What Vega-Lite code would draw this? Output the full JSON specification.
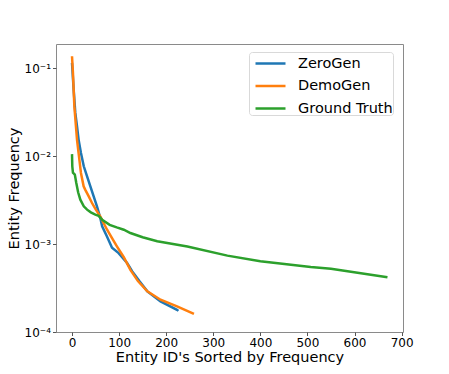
{
  "$schema": "https://vega.github.io/schema/vega-lite/v6.json",
  "width": 347,
  "height": 288,
  "autosize": "none",
  "padding": {"left": 56, "top": 44, "right": 46, "bottom": 42},
  "background": "white",
  "config": {
    "font": "DejaVu Sans",
    "view": {"stroke": "#8a8a8a", "strokeWidth": 1},
    "axis": {
      "grid": false,
      "domain": false,
      "tickColor": "#555",
      "tickSize": 3.5,
      "labelFont": "DejaVu Sans",
      "labelFontSize": 12,
      "labelColor": "black",
      "titleFont": "DejaVu Sans",
      "titleFontSize": 14.5,
      "titleFontWeight": "normal",
      "titleColor": "black"
    }
  },
  "data": {
    "values": [
      {"s": "ZeroGen", "x": 0, "y": 0.116},
      {"s": "ZeroGen", "x": 3.5, "y": 0.0575},
      {"s": "ZeroGen", "x": 7, "y": 0.0312},
      {"s": "ZeroGen", "x": 10.6, "y": 0.022},
      {"s": "ZeroGen", "x": 14, "y": 0.0155},
      {"s": "ZeroGen", "x": 19, "y": 0.0109},
      {"s": "ZeroGen", "x": 25, "y": 0.0077},
      {"s": "ZeroGen", "x": 32, "y": 0.0059},
      {"s": "ZeroGen", "x": 39, "y": 0.00455},
      {"s": "ZeroGen", "x": 46, "y": 0.0035},
      {"s": "ZeroGen", "x": 53, "y": 0.00269},
      {"s": "ZeroGen", "x": 60, "y": 0.002},
      {"s": "ZeroGen", "x": 64, "y": 0.0016},
      {"s": "ZeroGen", "x": 74, "y": 0.00123},
      {"s": "ZeroGen", "x": 85, "y": 0.00091},
      {"s": "ZeroGen", "x": 99, "y": 0.00079},
      {"s": "ZeroGen", "x": 117, "y": 0.00061},
      {"s": "ZeroGen", "x": 128, "y": 0.00049},
      {"s": "ZeroGen", "x": 143, "y": 0.00038},
      {"s": "ZeroGen", "x": 160, "y": 0.00029},
      {"s": "ZeroGen", "x": 188, "y": 0.000223},
      {"s": "ZeroGen", "x": 223, "y": 0.000179},
      {"s": "ZeroGen", "x": 226, "y": 0.000174},
      {"s": "DemoGen", "x": 0, "y": 0.138},
      {"s": "DemoGen", "x": 2, "y": 0.089},
      {"s": "DemoGen", "x": 5, "y": 0.037},
      {"s": "DemoGen", "x": 10.6, "y": 0.0155},
      {"s": "DemoGen", "x": 14, "y": 0.0109},
      {"s": "DemoGen", "x": 19, "y": 0.00646},
      {"s": "DemoGen", "x": 24.7, "y": 0.00455},
      {"s": "DemoGen", "x": 28, "y": 0.00418},
      {"s": "DemoGen", "x": 35, "y": 0.00355},
      {"s": "DemoGen", "x": 42.5, "y": 0.00294},
      {"s": "DemoGen", "x": 50, "y": 0.00251},
      {"s": "DemoGen", "x": 60, "y": 0.00207},
      {"s": "DemoGen", "x": 67, "y": 0.00174},
      {"s": "DemoGen", "x": 74.5, "y": 0.00146},
      {"s": "DemoGen", "x": 85, "y": 0.00117},
      {"s": "DemoGen", "x": 95.7, "y": 0.00094},
      {"s": "DemoGen", "x": 110, "y": 0.00071},
      {"s": "DemoGen", "x": 124, "y": 0.00051},
      {"s": "DemoGen", "x": 140, "y": 0.00038},
      {"s": "DemoGen", "x": 160, "y": 0.00029},
      {"s": "DemoGen", "x": 188, "y": 0.000233},
      {"s": "DemoGen", "x": 223, "y": 0.000196},
      {"s": "DemoGen", "x": 259, "y": 0.000161},
      {"s": "Ground Truth", "x": 0, "y": 0.0106},
      {"s": "Ground Truth", "x": 0.6, "y": 0.0077},
      {"s": "Ground Truth", "x": 2, "y": 0.0065},
      {"s": "Ground Truth", "x": 6, "y": 0.0062},
      {"s": "Ground Truth", "x": 9, "y": 0.005},
      {"s": "Ground Truth", "x": 13, "y": 0.0039},
      {"s": "Ground Truth", "x": 17.7, "y": 0.00321},
      {"s": "Ground Truth", "x": 25, "y": 0.0027},
      {"s": "Ground Truth", "x": 32, "y": 0.00247},
      {"s": "Ground Truth", "x": 40, "y": 0.0023},
      {"s": "Ground Truth", "x": 49.6, "y": 0.00217},
      {"s": "Ground Truth", "x": 56.6, "y": 0.0021},
      {"s": "Ground Truth", "x": 64, "y": 0.0019},
      {"s": "Ground Truth", "x": 80, "y": 0.00166},
      {"s": "Ground Truth", "x": 95, "y": 0.00155},
      {"s": "Ground Truth", "x": 110, "y": 0.00146},
      {"s": "Ground Truth", "x": 124, "y": 0.00134},
      {"s": "Ground Truth", "x": 150, "y": 0.0012},
      {"s": "Ground Truth", "x": 181, "y": 0.00108},
      {"s": "Ground Truth", "x": 245, "y": 0.00094},
      {"s": "Ground Truth", "x": 330, "y": 0.00074},
      {"s": "Ground Truth", "x": 400, "y": 0.00064},
      {"s": "Ground Truth", "x": 507, "y": 0.00055},
      {"s": "Ground Truth", "x": 550, "y": 0.000526},
      {"s": "Ground Truth", "x": 670, "y": 0.000419}
    ]
  },
  "mark": {"type": "line", "strokeWidth": 2.5, "clip": true},
  "encoding": {
    "x": {
      "field": "x",
      "type": "quantitative",
      "scale": {"domain": [-34, 703], "nice": false, "zero": false},
      "axis": {
        "values": [0, 100, 200, 300, 400, 500, 600, 700],
        "format": "d",
        "labelPadding": 2,
        "title": "Entity ID's Sorted by Frequency",
        "titleY": 29,
        "titleBaseline": "alphabetic"
      }
    },
    "y": {
      "field": "y",
      "type": "quantitative",
      "scale": {"type": "log", "domain": [0.0001, 0.19], "nice": false},
      "axis": {
        "values": [0.0001, 0.001, 0.01, 0.1],
        "labelExpr": "'10' + ['⁻⁴','⁻³','⁻²','⁻¹'][round(log(datum.value)/LN10)+4]",
        "labelPadding": 2,
        "title": "Entity Frequency",
        "titleX": -38,
        "titleY": 144,
        "titleAngle": -90,
        "titleAlign": "center",
        "titleBaseline": "alphabetic"
      }
    },
    "color": {
      "field": "s",
      "type": "nominal",
      "sort": null,
      "scale": {"domain": ["ZeroGen", "DemoGen", "Ground Truth"], "range": ["#1f77b4", "#ff7f0e", "#2ca02c"]},
      "legend": {
        "title": null,
        "orient": "none",
        "legendX": 193,
        "legendY": 8,
        "symbolType": "M-1.5,0H1.5",
        "symbolSize": 400,
        "symbolStrokeWidth": 2.5,
        "symbolOffset": 10,
        "labelFont": "DejaVu Sans",
        "labelFontSize": 14.5,
        "labelColor": "black",
        "labelOffset": 16,
        "rowPadding": 4.5,
        "padding": 0,
        "strokeColor": "#d9d9d9",
        "fillColor": "white",
        "cornerRadius": 3
      }
    }
  }
}
